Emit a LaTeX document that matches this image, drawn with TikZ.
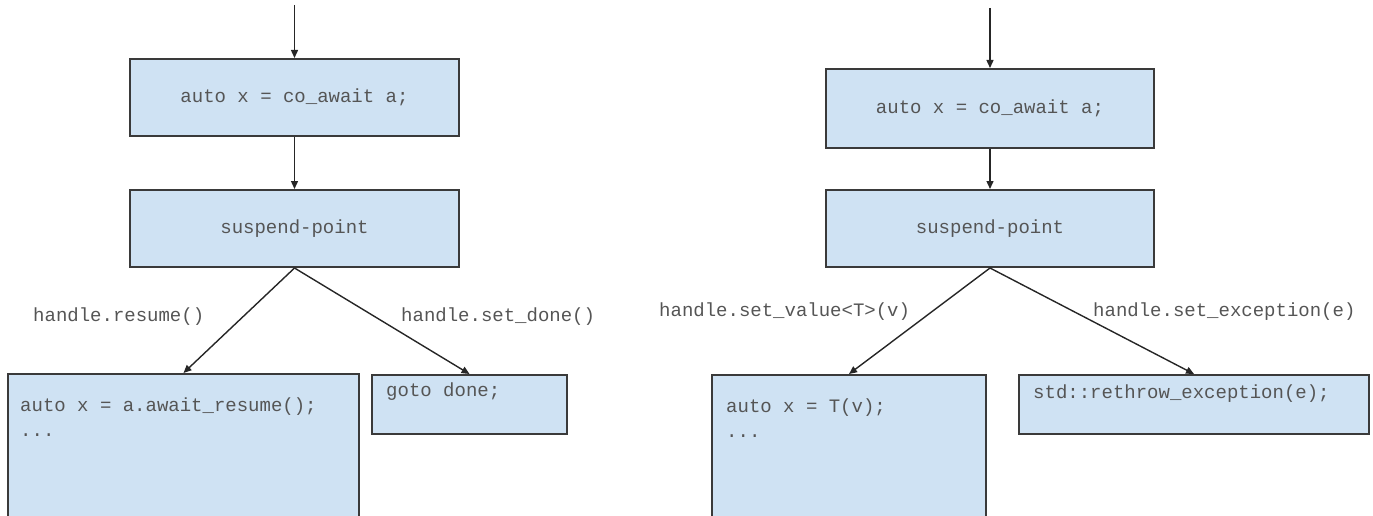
\documentclass[tikz,border=0pt]{standalone}
\usepackage{fontspec}
\setmonofont{Liberation Mono}
\usetikzlibrary{arrows.meta}
\usetikzlibrary{positioning}
\usepackage{xcolor}
\definecolor{boxblue}{HTML}{CFE2F3}
\definecolor{codegray}{HTML}{555555}
\definecolor{edgegray}{HTML}{3A3A3A}

\begin{document}
\begin{tikzpicture}[x=1pt,y=-1pt,
	block/.style={draw=edgegray, fill=boxblue, line width=2pt, inner sep=0pt},
	code/.style={font=\fontsize{19}{24}\selectfont\ttfamily, text=codegray, inner sep=0pt},
	flow/.style={-{Triangle[length=8pt,width=7pt]}, line width=1.4pt, black!85}]
			\clip (0,0) rectangle (1373,516);
			% 左：await_resume
			\coordinate (l-in) at (294.5,5);
			\node[block, code, minimum width=329pt, minimum height=77pt] (l-await) at (294.5,97.5) {auto x = co\_await a;};
			\node[block, code, minimum width=329pt, minimum height=77pt] (l-susp) at (294.5,228.5) {suspend-point};
			\node[block, minimum width=351pt, minimum height=180pt] (l-body) at (183.5,464) {};
			\node[block, minimum width=195pt, minimum height=59pt] (l-done) at (469.5,404.5) {};
			\node[code, anchor=base west] (l-code) at (20,411) {auto x = a.await\_resume();};
			\node[code, anchor=base west] (l-dots) at (20,436) {...};
			\node[code, anchor=base west] (l-goto) at (386,396) {goto done;};
			\node[code, anchor=base west] (l-resume) at (33,321) {handle.resume()};
			\node[code, anchor=base west] (l-setdone) at (401,321) {handle.set\_done()};
			\draw[flow] (l-in) -- (l-await);
			\draw[flow] (l-await) -- (l-susp);
			\draw[flow] (l-susp.south) -- (l-body.north);
			\draw[flow] (l-susp.south) -- (l-done.north);
			% 右：set_value / set_exception
			\coordinate (r-in) at (990,8);
			\node[block, code, minimum width=328pt, minimum height=79pt] (r-await) at (990,108.5) {auto x = co\_await a;};
			\node[block, code, minimum width=328pt, minimum height=77pt] (r-susp) at (990,228.5) {suspend-point};
			\node[block, minimum width=274pt, minimum height=180pt] (r-body) at (849,465) {};
			\node[block, minimum width=350pt, minimum height=59pt] (r-throw) at (1194,404.5) {};
			\node[code, anchor=base west] (r-code) at (726,412) {auto x = T(v);};
			\node[code, anchor=base west] (r-dots) at (726,437) {...};
			\node[code, anchor=base west] (r-rethrow) at (1033,398) {std::rethrow\_exception(e);};
			\node[code, anchor=base west] (r-value) at (659,316) {handle.set\_value<T>(v)};
			\node[code, anchor=base west] (r-except) at (1093,316) {handle.set\_exception(e)};
			\draw[flow] (r-in) -- (r-await);
			\draw[flow] (r-await) -- (r-susp);
			\draw[flow] (r-susp.south) -- (r-body.north);
			\draw[flow] (r-susp.south) -- (r-throw.north);
\end{tikzpicture}
\end{document}
